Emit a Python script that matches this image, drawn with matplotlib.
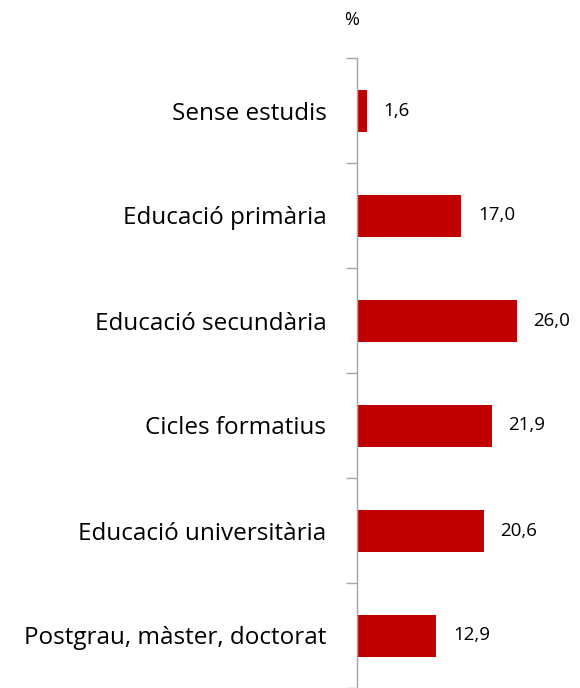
import matplotlib.pyplot as plt
import numpy as np

# data
categories = ["Sense estudis", "Educació primària", "Educació secundària",
              "Cicles formatius", "Educació universitària", "Postgrau, màster, doctorat"]
values = [1.6, 17.0, 26.0, 21.9, 20.6, 12.9]

plt.rcParams['font.family'] = ['Open Sans', 'DejaVu Sans']

fig = plt.figure(figsize=(5.8, 6.88), dpi=100)
ax = fig.add_axes([357 / 580, 0, 223 / 580, 630 / 688])

y = np.arange(len(categories))
ax.barh(y, values, height=0.4, color='#C00000')
for i, v in enumerate(values):
    ax.text(v + 2.7, i, f"{v:.1f}".replace('.', ','), va='center', ha='left',
            fontsize=13.5, color='#000000')

ax.set_xlim(0, 36.3)
ax.set_ylim(len(categories) - 0.5, -0.5)
ax.set_yticks(y)
ax.set_yticklabels(categories, fontsize=17.5)
ax.tick_params(axis='y', which='major', length=0, pad=22)
ax.set_yticks(np.arange(-0.5, len(categories), 1.0), minor=True)
ax.tick_params(axis='y', which='minor', length=8, width=1, color='#A6A6A6')
ax.set_xticks([])

for s in ['top', 'right', 'bottom']:
    ax.spines[s].set_visible(False)
ax.spines['left'].set_color('#A6A6A6')
ax.spines['left'].set_linewidth(1)

fig.text(352 / 580, 1 - 20 / 688, "%", ha='center', va='center', fontsize=13)

fig.savefig("out.png", dpi=100)
